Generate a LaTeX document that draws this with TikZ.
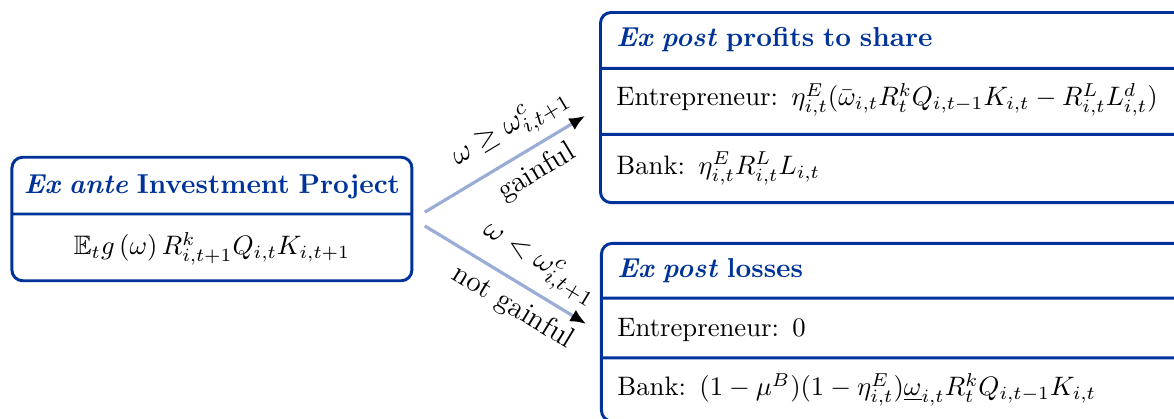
\documentclass[tikz,border=0pt]{standalone}
\usepackage{amsmath,amssymb}
\usepackage{tikz}
\usetikzlibrary{arrows.meta,positioning,shapes.multipart}
\definecolor{navy}{RGB}{0,51,153}
\definecolor{paleblue}{RGB}{155,172,214}
\newcommand{\rowstrut}[2]{\rule[-#2pt]{0pt}{\dimexpr #1pt+#2pt\relax}}
\newcommand{\headfont}{\fontsize{10.25}{12}\selectfont\bfseries}

\begin{document}
\begin{tikzpicture}[>=Latex,
  splitbox/.style={rectangle split,rectangle split parts=3,draw=navy,line width=1.1pt,
    rounded corners=4pt,inner xsep=6pt,inner ysep=5pt},
  flow/.style={-{Latex[black,length=6pt,width=5pt]},paleblue,line width=1.2pt,
    shorten <=5pt,shorten >=6pt},
  branch/.style={pos=0.6,sloped,font=\fontsize{11}{13}\selectfont,text=black}]
  \useasboundingbox (0,0) rectangle (15.454,-5.515);
  % ex ante project
  \node[splitbox,rectangle split parts=2,inner xsep=1.5pt,text width=146.8pt,align=center,anchor=west]
    (ante) at (0.138,-2.883)
    {\rowstrut{8.0}{2.15}\textcolor{navy}{\headfont\textit{Ex ante} Investment Project}
     \nodepart{two}\rowstrut{9.76}{4.14}$\mathbb{E}_t g\left(\omega\right) R^k_{i,t+1}Q_{i,t}K_{i,t+1}$};
  % ex post outcomes
  \node[splitbox,text width=212pt,align=left,anchor=north west] (gain) at (7.885,-0.145)
    {\rowstrut{7.13}{2.64}\textcolor{navy}{\headfont\textit{Ex post} profits to share}
     \nodepart{two}\rowstrut{7.2}{5.17}Entrepreneur: $\eta^E_{i,t}(\bar{\omega}_{i,t}R^k_tQ_{i,t-1}K_{i,t}-R^L_{i,t}L^d_{i,t})$
     \nodepart{three}\rowstrut{9.44}{5.0}Bank: $\eta^E_{i,t}R^L_{i,t}L_{i,t}$};
  \node[splitbox,text width=212pt,align=left,anchor=north west] (loss) at (7.898,-3.185)
    {\rowstrut{7.4}{2.0}\textcolor{navy}{\headfont\textit{Ex post} losses}
     \nodepart{two}\rowstrut{8.63}{2.64}Entrepreneur: $0$
     \nodepart{three}\rowstrut{8.63}{2.64}Bank: $(1-\mu^B)(1-\eta^E_{i,t})\underline{\omega}_{i,t}R^k_tQ_{i,t-1}K_{i,t}$};
  % branches
  \draw[flow] (ante.east) -- (gain.west)
    node[branch,above] (hicond) {$\omega \geq \omega^c_{i,t+1}$}
    node[branch,below] (hitag) {gainful};
  \draw[flow] (ante.east) -- (loss.west)
    node[branch,above] (locond) {$\omega < \omega^c_{i,t+1}$}
    node[branch,below] (lotag) {not gainful};
\end{tikzpicture}
\end{document}
